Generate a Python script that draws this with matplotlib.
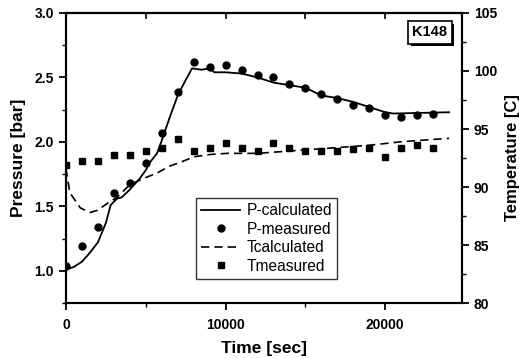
import numpy as np
import matplotlib
matplotlib.use("Agg")
import matplotlib.pyplot as plt
import matplotlib.patheffects as pe
from matplotlib.ticker import MultipleLocator

plt.rcParams['font.family'] = ['Liberation Sans', 'DejaVu Sans']

# measured pressure, sampled every 1000 s
t_meas = np.arange(0, 24000, 1000)
p_meas = [1.04, 1.19, 1.34, 1.60, 1.68, 1.84, 2.07, 2.39, 2.62, 2.58, 2.60, 2.56,
          2.52, 2.50, 2.45, 2.42, 2.37, 2.33, 2.29, 2.26, 2.21, 2.19, 2.21, 2.22]
# measured temperature, same sample times
T_meas = [91.9, 92.2, 92.2, 92.8, 92.8, 93.1, 93.4, 94.1, 93.1, 93.4, 93.8, 93.4,
          93.1, 93.8, 93.4, 93.1, 93.1, 93.1, 93.3, 93.4, 92.6, 93.4, 93.6, 93.4]

# calculated pressure
t_pcalc = [0, 500, 1000, 1500, 2000, 2500, 2800, 3200, 3500, 4000, 4650, 5000,
           5250, 5700, 6000, 6500, 7000, 7500, 7900, 8500, 9000, 9300, 10000,
           11000, 12000, 13000, 14000, 15000, 16000, 17000, 18000, 19000,
           20000, 20500, 24000]
p_calc = [1.01, 1.03, 1.07, 1.14, 1.22, 1.37, 1.51, 1.56, 1.57, 1.63, 1.72, 1.78,
          1.84, 1.91, 2.01, 2.19, 2.36, 2.48, 2.57, 2.56, 2.57, 2.54, 2.54,
          2.53, 2.50, 2.46, 2.44, 2.42, 2.36, 2.34, 2.31, 2.27,
          2.23, 2.22, 2.23]

# calculated temperature
t_tcalc = [0, 250, 900, 1500, 2000, 2600, 3200, 4000, 4800, 5700, 6500, 7300,
           8000, 9000, 10100, 12000, 15000, 17000, 19000, 21000, 24000]
T_calc = [91.6, 89.5, 88.2, 87.8, 88.0, 88.6, 89.1, 90.2, 90.7, 91.2, 91.8, 92.2,
          92.6, 92.8, 92.9, 92.9, 93.2, 93.4, 93.6, 93.9, 94.2]

fig = plt.figure(figsize=(5.19, 3.58), dpi=100)
ax = fig.add_axes([0.127, 0.1536, 0.763, 0.8101])
ax2 = ax.twinx()

l1, = ax.plot(t_pcalc, p_calc, color='black', lw=1.3, label='P-calculated')
l2, = ax.plot(t_meas, p_meas, 'o', color='black', ms=5, label='P-measured')
l3, = ax2.plot(t_tcalc, T_calc, color='black', lw=1.2, dashes=(5, 3),
               label='Tcalculated')
l4, = ax2.plot(t_meas, T_meas, 's', color='black', ms=4.8, label='Tmeasured')

ax.set_xlim(0, 24800)
ax.set_ylim(0.75, 3.0)
ax2.set_ylim(80, 105)

ax.xaxis.set_major_locator(MultipleLocator(10000))
ax.xaxis.set_minor_locator(MultipleLocator(5000))
ax.yaxis.set_major_locator(MultipleLocator(0.5))
ax.yaxis.set_minor_locator(MultipleLocator(0.25))
ax2.yaxis.set_major_locator(MultipleLocator(5))
ax2.yaxis.set_minor_locator(MultipleLocator(2.5))

for a in (ax, ax2):
    for s in a.spines.values():
        s.set_linewidth(1.5)
    a.tick_params(which='major', length=5, width=1.3, labelsize=10)
    a.tick_params(which='minor', length=3, width=1.0)

ax.tick_params(axis='x', pad=6)
ax.set_yticks([1.0, 1.5, 2.0, 2.5, 3.0])
for lab in ax.get_xticklabels() + ax.get_yticklabels() + ax2.get_yticklabels():
    lab.set_fontweight('bold')

# inward ticks along the top edge
top = ax.secondary_xaxis('top')
top.xaxis.set_major_locator(MultipleLocator(5000))
top.tick_params(direction='in', length=4, width=1.2, labeltop=False)
top.spines['top'].set_linewidth(1.5)

ax.set_xlabel('Time [sec]', fontsize=12.5, fontweight='bold', labelpad=6)
ax.set_ylabel('Pressure [bar]', fontsize=12.5, fontweight='bold', labelpad=6)
ax2.set_ylabel('Temperature [C]', fontsize=12, fontweight='bold', labelpad=6)

leg = ax.legend([l1, l2, l3, l4], ['P-calculated', 'P-measured', 'Tcalculated', 'Tmeasured'],
                loc='upper left', bbox_to_anchor=(0.328, 0.362), borderaxespad=0,
                fontsize=11.2, frameon=True, fancybox=False, edgecolor='black',
                handlelength=2.5, borderpad=0.35, labelspacing=0.22, handletextpad=0.4)
leg.get_frame().set_linewidth(1.0)

# label box with a drop shadow
lbl = ax.text(0.919, 0.934, 'K148', transform=ax.transAxes, ha='center', va='center',
              fontsize=10.5, fontweight='bold',
              bbox=dict(boxstyle='square,pad=0.3', facecolor='white', edgecolor='black', lw=1.2))
lbl.get_bbox_patch().set_path_effects([
    pe.SimplePatchShadow(offset=(2, -2), shadow_rgbFace='black', alpha=1.0),
    pe.Normal()])

fig.savefig('out.png', dpi=100)
